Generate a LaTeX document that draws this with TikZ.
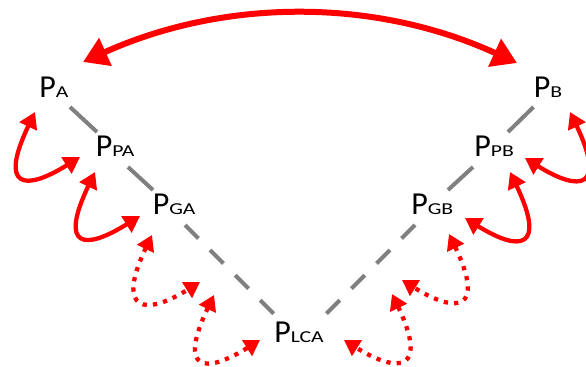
\documentclass[tikz,border=0pt]{standalone}
\usepackage{fontspec}
\usepackage{graphicx}
\setmainfont{Carlito}
\usetikzlibrary{arrows.meta}

% label: large P followed by wide small capitals on the same baseline
\newcommand\plabel[1]{{\fontsize{24pt}{24pt}\selectfont P}\scalebox{1.3}[1]{\fontsize{12.5pt}{12.5pt}\selectfont #1}}

\definecolor{linegray}{RGB}{128,128,128}
\definecolor{arrred}{RGB}{255,0,0}

\tikzset{
  lab/.style={inner sep=0pt, anchor=base west, text=black},
  treeline/.style={draw=linegray, line width=3pt},
  treedash/.style={treeline, dash pattern=on 14.2pt off 12.4pt},
  bigarrow/.style={draw=arrred, line width=4.5pt,
    {Triangle[length=18.5pt,width=22pt]}-{Triangle[length=18.5pt,width=22pt]}},
  hoparrow/.style={draw=arrred, line width=3.2pt,
    {Triangle[length=12pt,width=14pt]}-{Triangle[length=12pt,width=14pt]}},
  skiparrow/.style={draw=arrred, line width=3.2pt, dash pattern=on 3.2pt off 4.6pt,
    {Triangle[length=11.5pt,width=13.5pt]}-{Triangle[length=11.5pt,width=13.5pt]}},
}

\begin{document}
\begin{tikzpicture}[x=0.75pt, y=-0.75pt]
  \useasboundingbox (0,0) rectangle (586,367);
  \clip (0,0) rectangle (586,367);

  % labels
  \node[lab] (pa)   at (39,98)    {\plabel{A}};
  \node[lab] (ppa)  at (95.5,157) {\plabel{PA}};
  \node[lab] (pga)  at (152.5,215){\plabel{GA}};
  \node[lab] (plca) at (274,342)  {\plabel{LCA}};
  \node[lab] (pb)   at (533.5,97.5){\plabel{B}};
  \node[lab] (ppb)  at (474,157)  {\plabel{PB}};
  \node[lab] (pgb)  at (411,215)  {\plabel{GB}};

  % tree edges, left branch
  \draw[treeline] ([shift={(31,9)}]pa.base west) -- ([shift={(1.5,-25)}]ppa.base west);
  \draw[treeline] ([shift={(32.5,10)}]ppa.base west) -- ([shift={(0.5,-25)}]pga.base west);
  \draw[treedash] ([shift={(32.5,10)}]pga.base west) -- ([shift={(1,-27)}]plca.base west);
  % tree edges, right branch
  \draw[treeline] ([shift={(0,9.5)}]pb.base west) -- ([shift={(34,-25)}]ppb.base west);
  \draw[treeline] ([shift={(-1,10)}]ppb.base west) -- ([shift={(37,-25)}]pgb.base west);
  \draw[treedash] ([shift={(4,10)}]pgb.base west) -- ([shift={(51,-27)}]plca.base west);

  % arc between the two leaves
  \draw[bigarrow] ([shift={(44,-36)}]pa.base west)
    .. controls (225,-2) and (375,-2) .. ([shift={(-16.5,-34.5)}]pb.base west);

  % hook arrows, left side
  \coordinate (l1u) at (35,112);  \coordinate (l1r) at (80,157);
  \coordinate (l2u) at (95,172);  \coordinate (l2r) at (140,216);
  \coordinate (l3u) at (152,235); \coordinate (l3r) at (200,282);
  \coordinate (l4u) at (214,295); \coordinate (l4r) at (260,340);
  \draw[hoparrow]  (l1u) .. controls +(-36.5,76.5) and +(-55.25,34.5) .. (l1r);
  \draw[hoparrow]  (l2u) .. controls +(-36.5,76.5) and +(-55.25,34.5) .. (l2r);
  \draw[skiparrow] (l3u) .. controls +(-36.5,76.5) and +(-55.25,34.5) .. (l3r);
  \draw[skiparrow] (l4u) .. controls +(-36.5,76.5) and +(-55.25,34.5) .. (l4r);

  % hook arrows, right side
  \coordinate (r1u) at (570,112); \coordinate (r1l) at (525,158);
  \coordinate (r2u) at (510,172); \coordinate (r2l) at (465,218);
  \coordinate (r3u) at (449,234); \coordinate (r3l) at (402,280);
  \coordinate (r4u) at (392,294); \coordinate (r4l) at (344,340);
  \draw[hoparrow]  (r1u) .. controls +(36.5,76.5) and +(55.25,34.5) .. (r1l);
  \draw[hoparrow]  (r2u) .. controls +(36.5,76.5) and +(55.25,34.5) .. (r2l);
  \draw[skiparrow] (r3u) .. controls +(36.5,76.5) and +(55.25,34.5) .. (r3l);
  \draw[skiparrow] (r4u) .. controls +(36.5,76.5) and +(55.25,34.5) .. (r4l);
\end{tikzpicture}
\end{document}
